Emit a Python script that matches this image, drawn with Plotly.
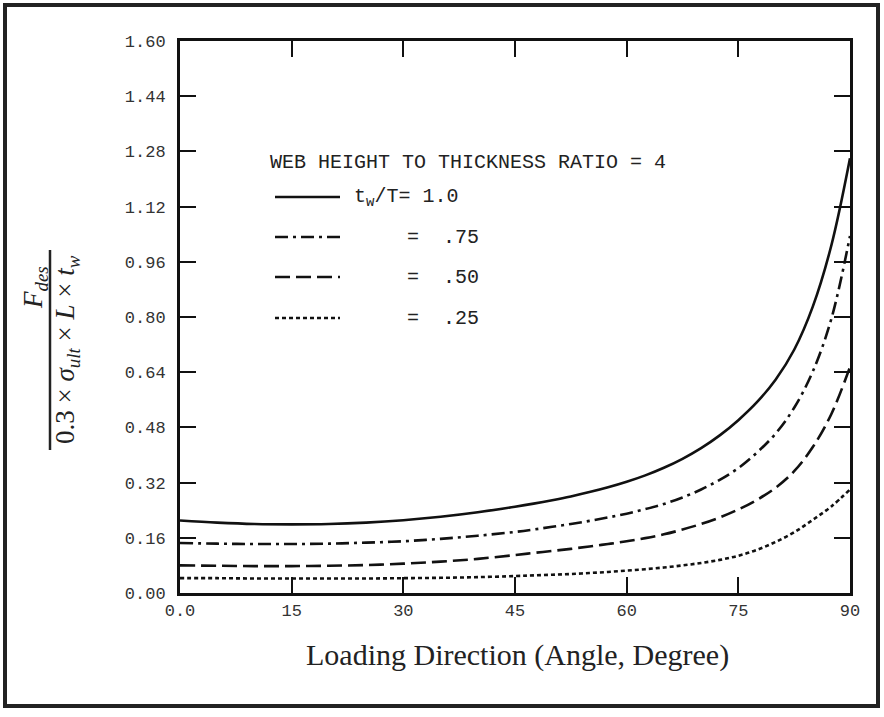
import plotly.graph_objects as go

# ---- data ----
angle = [0, 5, 10, 15, 20, 25, 30, 35, 40, 45,
         47.5, 50, 52.5, 55, 57.5, 60, 62.5, 65, 67.5, 70, 72.5, 75, 77.5, 80,
         82.5, 85, 87.5, 90]
ratio_100 = [0.210, 0.204, 0.200, 0.199, 0.200, 0.204, 0.211, 0.221, 0.234, 0.250,
             0.259, 0.269, 0.280, 0.2925, 0.3065, 0.3225, 0.341, 0.363, 0.389, 0.420, 0.457, 0.501, 0.553, 0.618,
             0.705, 0.830, 1.008, 1.260]
ratio_075 = [0.145, 0.143, 0.142, 0.142, 0.143, 0.146, 0.150, 0.157, 0.166, 0.177,
             0.184, 0.192, 0.200, 0.209, 0.219, 0.230, 0.243, 0.258, 0.277, 0.300, 0.328, 0.362, 0.407, 0.462,
             0.537, 0.642, 0.795, 1.035]
ratio_050 = [0.080, 0.079, 0.078, 0.078, 0.079, 0.081, 0.085, 0.091, 0.099, 0.110,
             0.116, 0.122, 0.128, 0.135, 0.142, 0.150, 0.159, 0.170, 0.184, 0.200, 0.219, 0.242, 0.270, 0.305,
             0.353, 0.423, 0.519, 0.655]
ratio_025 = [0.043, 0.043, 0.042, 0.042, 0.042, 0.042, 0.043, 0.044, 0.046, 0.049,
             0.051, 0.053, 0.055, 0.058, 0.061, 0.065, 0.069, 0.074, 0.080, 0.087, 0.096, 0.108, 0.125, 0.148,
             0.176, 0.212, 0.251, 0.300]

x_tickvals = [0, 15, 30, 45, 60, 75, 90]
x_ticktext = ["0.0", "15", "30", "45", "60", "75", "90"]
y_tickvals = [0.00, 0.16, 0.32, 0.48, 0.64, 0.80, 0.96, 1.12, 1.28, 1.44, 1.60]
y_ticktext = ["0.00", "0.16", "0.32", "0.48", "0.64", "0.80", "0.96", "1.12", "1.28", "1.44", "1.60"]

legend_title = "WEB HEIGHT TO THICKNESS RATIO = 4"
legend_labels = ["t<sub>w</sub>/T= 1.0", "=  .75", "=  .50", "=  .25"]

# ---- layout geometry (pixels) ----
W, H = 884, 717
L, R, T, B = 180, 850, 41, 593

def px(x):
    return (x - L) / (R - L)

def py(y):
    return (B - y) / (B - T)

dashes = ["solid", "13px,5px,3px,5px", "15px,6px", "4px,3px"]
series = [ratio_100, ratio_075, ratio_050, ratio_025]

fig = go.Figure()
for vals, d in zip(series, dashes):
    fig.add_trace(go.Scatter(x=angle, y=vals, mode="lines",
                             line=dict(color="#111", width=2.6, dash=d, shape="spline", smoothing=1.0),
                             showlegend=False, hoverinfo="skip"))

mono = "Liberation Mono, Courier New, monospace"
serif = "Liberation Serif, Times New Roman, serif"

axis_common = dict(showgrid=False, zeroline=False, showline=True, linewidth=3, linecolor="#111",
                   mirror="ticks", ticks="inside", ticklen=16, tickwidth=2, tickcolor="#111",
                   tickfont=dict(family=mono, size=17, color="#333"))

fig.update_layout(
    width=W, height=H,
    margin=dict(l=L, r=W - R, t=T, b=H - B, autoexpand=False),
    paper_bgcolor="white", plot_bgcolor="white",
    xaxis=dict(range=[0, 90], tickvals=x_tickvals, ticktext=x_ticktext, **axis_common),
    yaxis=dict(range=[0, 1.6], tickvals=y_tickvals, ticktext=y_ticktext, ticklabelstandoff=8, **axis_common),
)

shapes = []
# outer frame
shapes.append(dict(type="rect", xref="paper", yref="paper", x0=px(5), x1=px(878), y0=py(5), y1=py(706),
                   line=dict(color="#222", width=4)))
# fraction bar of y label
shapes.append(dict(type="line", xref="paper", yref="paper", x0=px(50), x1=px(50), y0=py(250), y1=py(450),
                   line=dict(color="#222", width=2.5)))
# legend samples
leg_y = [197, 237, 277, 318]
for yy, d in zip(leg_y, dashes):
    shapes.append(dict(type="line", xref="paper", yref="paper", x0=px(275), x1=px(340), y0=py(yy), y1=py(yy),
                       line=dict(color="#111", width=2.6, dash=d)))
fig.update_layout(shapes=shapes)

ann = []
ann.append(dict(text=legend_title, xref="paper", yref="paper", x=px(268), y=py(162), xanchor="left", yanchor="middle",
                showarrow=False, font=dict(family=mono, size=20, color="#222")))
leg_x = [352, 405, 405, 405]
for yy, xx, t in zip(leg_y, leg_x, legend_labels):
    ann.append(dict(text=t, xref="paper", yref="paper", x=px(xx), y=py(yy), xanchor="left", yanchor="middle",
                    showarrow=False, font=dict(family=mono, size=20, color="#222")))
# x title
ann.append(dict(text="Loading Direction (Angle, Degree)", xref="paper", yref="paper", x=px(517), y=py(655),
                xanchor="center", yanchor="middle", showarrow=False, font=dict(family=serif, size=30, color="#222")))
# y title fraction
ann.append(dict(text="<i>F</i><sub><i>des</i></sub>", xref="paper", yref="paper", x=px(35), y=py(288),
                xanchor="center", yanchor="middle", textangle=-90, showarrow=False,
                font=dict(family=serif, size=27, color="#222")))
ann.append(dict(text="0.3 × <i>σ</i><sub><i>ult</i></sub> × <i>L</i> × <i>t</i><sub><i>w</i></sub>", xref="paper", yref="paper",
                x=px(67), y=py(350), xanchor="center", yanchor="middle", textangle=-90, showarrow=False,
                font=dict(family=serif, size=27, color="#222")))
fig.update_layout(annotations=ann)

fig.write_html("out.html")
